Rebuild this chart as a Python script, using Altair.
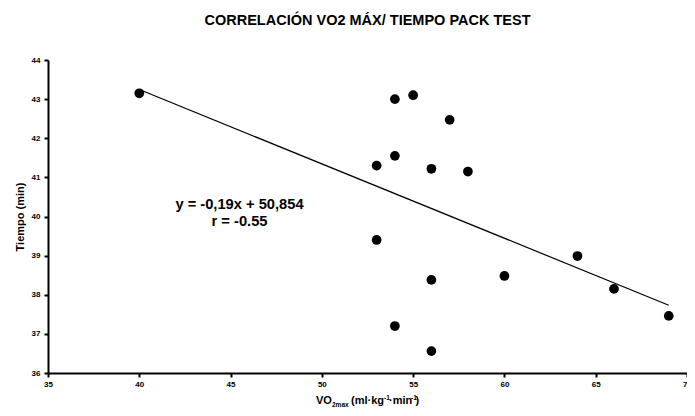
import altair as alt
import pandas as pd

# ---- data ----
vo2max = [40, 54, 55, 57, 53, 54, 56, 58, 53, 60, 56, 64, 66, 69, 54, 56]
tiempo = [43.15, 43.0, 43.1, 42.47, 41.3, 41.55, 41.22, 41.15, 39.4, 38.48,
          38.38, 38.99, 38.15, 37.46, 37.2, 36.56]
x_ticks = [35, 40, 45, 50, 55, 60, 65, 70]
y_ticks = [36, 37, 38, 39, 40, 41, 42, 43, 44]
title_text = "CORRELACIÓN VO2 MÁX/ TIEMPO PACK TEST"
eq_lines = ["y = -0,19x + 50,854", "r = -0.55"]
y_title = "Tiempo (min)"
x_title_parts = ["VO", "2max", "(ml·kg", "-1", "·min", "-1", ")"]

df = pd.DataFrame({"vo2": vo2max, "t": tiempo})
FONT = "Liberation Sans"
W, H = 639, 313

xs = alt.Scale(domain=[35, 70], nice=False, zero=False)
ys = alt.Scale(domain=[36, 44], nice=False, zero=False)

x_axis = alt.Axis(values=x_ticks, title=None, labelPadding=3, labelFlush=False,
                  labelOverlap=False)
y_axis = alt.Axis(values=y_ticks, title=y_title, labelPadding=4,
                  labelOverlap=False, titlePadding=6)

base = alt.Chart(df)

points = base.mark_circle(size=95, color="black", opacity=1).encode(
    x=alt.X("vo2:Q", scale=xs, axis=x_axis),
    y=alt.Y("t:Q", scale=ys, axis=y_axis),
)

reg = base.transform_regression("vo2", "t").mark_line(
    color="black", strokeWidth=1.2
).encode(
    x=alt.X("vo2:Q", scale=xs, axis=x_axis),
    y=alt.Y("t:Q", scale=ys, axis=y_axis),
)

one = pd.DataFrame({"k": [0]})
layers = [points, reg]

# equation annotation
for i, line in enumerate(eq_lines):
    layers.append(
        alt.Chart(one).mark_text(text=line, font=FONT, fontWeight="bold",
                                 fontSize=14.7, color="black", align="center",
                                 baseline="middle")
        .encode(x=alt.value(191.5), y=alt.value(145 + 17 * i))
    )

# composite x-axis title with sub/superscripts
sizes = [11, 6.5, 11, 6.5, 11, 6.5, 11]
shifts = [0, 3, 0, -4, 0, -4, 0]
offsets = [0, 16, 35, 68, 73, 95, 99.5]
x0 = 268
for part, fs, sh, off in zip(x_title_parts, sizes, shifts, offsets):
    layers.append(
        alt.Chart(one).mark_text(text=part, font=FONT, fontWeight="bold",
                                 fontSize=fs, color="black", align="left",
                                 baseline="alphabetic")
        .encode(x=alt.value(x0 + off), y=alt.value(344 + sh))
    )

chart = alt.layer(*layers).properties(
    width=W, height=H,
    title=alt.Title(title_text, font=FONT, fontWeight="bold", fontSize=14.5,
                    color="black", anchor="middle", offset=28),
    autosize=alt.AutoSizeParams(type="none"),
    padding={"left": 40, "top": 52, "right": 0, "bottom": 35},
).configure_view(strokeWidth=0).configure_axis(
    grid=False, domainColor="black", domainWidth=2, tickColor="black",
    tickWidth=2, tickSize=4, labelFont=FONT, labelFontWeight="bold",
    labelFontSize=8, labelColor="black", titleFont=FONT,
    titleFontWeight="bold", titleFontSize=11, titleColor="black",
)

chart.save("out.html", embed_options={"renderer": "svg", "actions": False})
